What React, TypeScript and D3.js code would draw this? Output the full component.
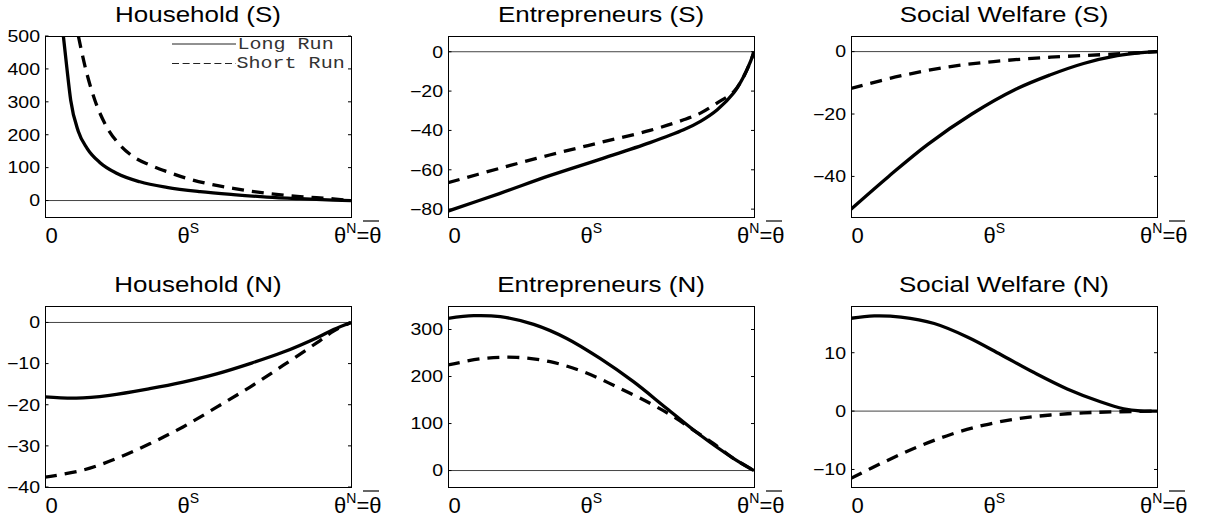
import React from "react";
import * as d3 from "d3";

type Pt = [number, number];

// ---- data (x normalised: 0 .. theta^N = theta-bar = 1) ----
const householdS_long: Pt[] = [[0.06, 500], [0.071, 407], [0.084, 305], [0.109, 210], [0.138, 158], [0.18, 115], [0.234, 83], [0.31, 57], [0.398, 40], [0.507, 27], [0.615, 18], [0.725, 10.6], [0.833, 5.6], [0.942, 1.5], [1, 0]];
const householdS_short: Pt[] = [[0.109, 500], [0.131, 407], [0.163, 305], [0.2015, 224], [0.24, 174], [0.289, 133], [0.343, 108], [0.398, 88], [0.463, 67.5], [0.528, 52], [0.615, 37], [0.725, 22], [0.833, 12], [0.942, 5], [1, 0]];

const entS_long: Pt[] = [[0, -81], [0.168, -72.1], [0.332, -63], [0.496, -54.7], [0.66, -46.2], [0.77, -39.7], [0.825, -35.4], [0.88, -29.5], [0.934, -20.9], [0.967, -12.4], [0.989, -4.8], [1, 0]];
const entS_short: Pt[] = [[0, -66.6], [0.168, -59.3], [0.332, -52.5], [0.496, -46.2], [0.66, -40], [0.77, -34.6], [0.825, -31.2], [0.88, -26], [0.934, -20.3], [0.967, -12.4], [0.989, -4.8], [1, 0]];

const welfareS_long: Pt[] = [[0, -50.5], [0.123, -40], [0.25, -29.8], [0.395, -20], [0.54, -12], [0.65, -7.5], [0.76, -3.8], [0.87, -1.3], [0.95, -0.3], [1, 0]];
const welfareS_short: Pt[] = [[0, -11.8], [0.161, -7.8], [0.325, -4.8], [0.488, -3.0], [0.651, -1.8], [0.815, -1.0], [0.924, -0.45], [1, 0]];

const householdN_long: Pt[] = [[0, -18.1], [0.102, -18.4], [0.211, -17.7], [0.342, -16.1], [0.451, -14.5], [0.561, -12.5], [0.67, -10.0], [0.779, -7.2], [0.889, -3.7], [0.943, -1.7], [1, 0]];
const householdN_short: Pt[] = [[0, -37.6], [0.1235, -35.9], [0.233, -33.1], [0.342, -29.5], [0.451, -25.4], [0.561, -20.6], [0.67, -15.7], [0.779, -10.4], [0.889, -4.9], [0.943, -2.1], [1, 0]];

const entN_long: Pt[] = [[0, 323.7], [0.084, 329.4], [0.171, 327.2], [0.28, 310.9], [0.388, 281], [0.497, 238.5], [0.606, 189], [0.715, 132], [0.824, 75.5], [0.9325, 26], [1, 0]];
const entN_short: Pt[] = [[0, 224.5], [0.116, 238.5], [0.225, 240.7], [0.334, 231.5], [0.443, 210], [0.552, 178], [0.66, 143], [0.737, 114.5], [0.802, 86], [0.867, 57.7], [0.9325, 26], [1, 0]];

const welfareN_long: Pt[] = [[0, 15.9], [0.076, 16.3], [0.163, 16.1], [0.272, 15.0], [0.38, 12.7], [0.489, 9.7], [0.598, 6.6], [0.7065, 3.8], [0.815, 1.6], [0.891, 0.4], [0.946, 0.02], [1, 0]];
const welfareN_short: Pt[] = [[0, -11.5], [0.109, -8.7], [0.217, -6.15], [0.326, -4.0], [0.435, -2.4], [0.5435, -1.3], [0.652, -0.67], [0.761, -0.3], [0.87, -0.12], [1, 0]];

const titles = ["Household (S)", "Entrepreneurs (S)", "Social Welfare (S)", "Household (N)", "Entrepreneurs (N)", "Social Welfare (N)"];
const yDomains: [number, number][] = [[-50, 500], [-84, 8], [-53, 5], [-40, 4], [-35, 350], [-13, 18]];
const yTicks: number[][] = [[0, 100, 200, 300, 400, 500], [-80, -60, -40, -20, 0], [-40, -20, 0], [-40, -30, -20, -10, 0], [0, 100, 200, 300], [-10, 0, 10]];
const longRun: Pt[][] = [householdS_long, entS_long, welfareS_long, householdN_long, entN_long, welfareN_long];
const shortRun: Pt[][] = [householdS_short, entS_short, welfareS_short, householdN_short, entN_short, welfareN_short];
const legendLabels = ["Long Run", "Short Run"];
const thetaS = 0.454;

// ---- layout ----
const W = 1206;
const H = 524;
const PW = 306;
const PH = 181;
const lefts = [45, 448, 851];
const tops = [36, 306];
const FONT = "'Liberation Sans', Arial, Helvetica, sans-serif";
const MONO = "'Liberation Mono', 'Courier New', monospace";

const fmt = d3.format("d");

function Panel({ i }: { i: number }) {
  const left = lefts[i % 3];
  const top = tops[Math.floor(i / 3)];
  const right = left + PW;
  const bottom = top + PH;
  const x = d3.scaleLinear().domain([0, 1]).range([left, right]);
  const y = d3.scaleLinear().domain(yDomains[i]).range([bottom, top]);
  const line = d3
    .line<Pt>()
    .x((d) => x(d[0]))
    .y((d) => y(d[1]))
    .curve(i === 0 ? d3.curveMonotoneX : d3.curveCatmullRom.alpha(0.5));
  const clipId = `clip${i}`;
  const base = bottom + 26;
  const nStart = x(1) - 17;
  return (
    <g>
      <defs>
        <clipPath id={clipId}>
          <rect x={left} y={top} width={PW} height={PH} />
        </clipPath>
      </defs>
      <text
        transform={`translate(${(left + right) / 2},${top - 14}) scale(1.18,1)`}
        textAnchor="middle"
        fontFamily={FONT}
        fontSize={22}
        fill="#000"
      >
        {titles[i]}
      </text>
      <g clipPath={`url(#${clipId})`}>
        <line x1={left} x2={right} y1={y(0)} y2={y(0)} stroke="#444" strokeWidth={1} />
        <path d={line(longRun[i]) || ""} fill="none" stroke="#000" strokeWidth={3.3} strokeLinejoin="round" />
        <path d={line(shortRun[i]) || ""} fill="none" stroke="#000" strokeWidth={3.3} strokeDasharray="12 8" />
      </g>
      <rect x={left + 0.5} y={top + 0.5} width={PW} height={PH} fill="none" stroke="#000" strokeWidth={1} shapeRendering="crispEdges" />
      {yTicks[i].map((t) => (
        <g key={t}>
          <line x1={left} x2={left + 3.5} y1={y(t)} y2={y(t)} stroke="#000" strokeWidth={1} />
          <line x1={right - 3} x2={right} y1={y(t)} y2={y(t)} stroke="#000" strokeWidth={1} />
          <text
            transform={`translate(${left - 5},${y(t) + 5.8}) scale(1.22,1)`}
            textAnchor="end"
            fontFamily={FONT}
            fontSize={16}
            fill="#000"
          >
            {fmt(t)}
          </text>
        </g>
      ))}
      <text x={x(0) + 6.5} y={base} textAnchor="middle" fontFamily={FONT} fontSize={22} fill="#000">
        0
      </text>
      <text x={x(thetaS) - 6.5} y={base} fontFamily={FONT} fontSize={22} fill="#000">
        θ
        <tspan dy={-10} fontSize={14}>S</tspan>
      </text>
      <text x={nStart} y={base} fontFamily={FONT} fontSize={22} fill="#000">
        θ
        <tspan dy={-10} fontSize={14}>N</tspan>
        <tspan dy={10}>=θ</tspan>
      </text>
      <line x1={nStart + 29} x2={nStart + 45} y1={base - 22} y2={base - 22} stroke="#000" strokeWidth={1.2} />
      {i === 0 && (
        <g>
          <line x1={left + 127} x2={left + 191} y1={top + 8} y2={top + 8} stroke="#222" strokeWidth={1} />
          <line x1={left + 127} x2={left + 191} y1={top + 27.5} y2={top + 27.5} stroke="#222" strokeWidth={1} strokeDasharray="7 3.6" />
          <text
            transform={`translate(${left + 192.5},${top + 12.5}) scale(1.2,1)`}
            fontFamily={MONO}
            fontSize={16.7}
            fill="#333"
          >
            {legendLabels[0]}
          </text>
          <text
            transform={`translate(${left + 191.5},${top + 31.5}) scale(1.2,1)`}
            fontFamily={MONO}
            fontSize={16.7}
            fill="#333"
          >
            {legendLabels[1]}
          </text>
        </g>
      )}
    </g>
  );
}

export default function App() {
  return (
    <svg
      width={W}
      height={H}
      viewBox={`0 0 ${W} ${H}`}
      style={{ position: "absolute", left: 0, top: 0, background: "#fff" }}
    >
      <rect x={0} y={0} width={W} height={H} fill="#fff" />
      {titles.map((_, i) => (
        <Panel key={i} i={i} />
      ))}
    </svg>
  );
}
